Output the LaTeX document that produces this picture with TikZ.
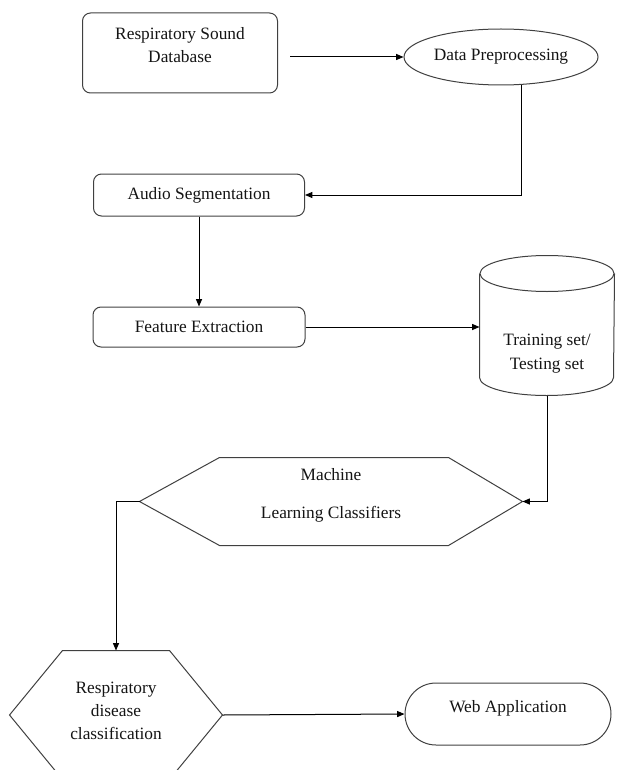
\documentclass[tikz,border=0pt]{standalone}
\usepackage{fontspec}
\setmainfont{Liberation Serif}
\newfontfamily\flowfont{Liberation Serif}
\usetikzlibrary{arrows.meta,calc,shapes.geometric,shapes.misc}

\tikzset{every picture/.style={line width=0.75pt}}
\tikzset{
  shapeline/.style={draw={rgb, 255:red, 64; green, 64; blue, 64}},
  boxnode/.style={shapeline, rounded corners=6pt},
  flowtext/.style={font=\flowfont\fontsize{13}{17.5}\selectfont, text={rgb, 255:red, 20; green, 20; blue, 20}, align=center, inner sep=0pt},
  flowarrow/.style={draw=black, -{Triangle[length=5.5pt,width=4.5pt]}}
}

\begin{document}
\begin{tikzpicture}[x=0.75pt,y=0.75pt,yscale=-1,xscale=1]
\clip (0,0) rectangle (636,770); %set diagram size 636 x 770

%Shape: Rounded Rect [id:rsd]
\node[boxnode, flowtext, minimum width=146.25pt, minimum height=60pt] (rsd) at (180,53) {};
%Shape: Ellipse [id:dp]
\node[shapeline, ellipse, flowtext, minimum width=145.5pt, minimum height=42pt] (dp) at (501,57) {Data Preprocessing};
%Shape: Rounded Rect [id:seg]
\node[boxnode, flowtext, minimum width=158.25pt, minimum height=31.5pt] (seg) at (199,195) {Audio Segmentation};
%Shape: Rounded Rect [id:fe]
\node[boxnode, flowtext, minimum width=159pt, minimum height=30pt] (fe) at (199,327) {Feature Extraction};
%Shape: Can [id:tts]
\node[flowtext, minimum width=100.5pt, minimum height=104.25pt] (tts) at (547,325.5) {};
\draw[shapeline] ($(tts.north)+(0,18)$) ellipse [x radius=67, y radius=18];
\draw[shapeline] ($(tts.north west)+(0,18)$) -- ($(tts.south west)+(0,-18)$) arc [start angle=180, end angle=0, x radius=67, y radius=18] -- ($(tts.north east)+(0,18)$);
%Shape: Hexagon [id:mlc]
\node[flowtext, minimum width=286.5pt, minimum height=65.25pt] (mlc) at (331,501.5) {};
\draw[shapeline] (mlc.west) -- ($(mlc.north west)+(80,0)$) -- ($(mlc.north east)+(-74,0)$) -- (mlc.east) -- ($(mlc.south east)+(-74,0)$) -- ($(mlc.south west)+(80,0)$) -- cycle;
%Shape: Hexagon [id:rdc]
\node[flowtext, minimum width=159pt, minimum height=96pt] (rdc) at (116,715) {};
\draw[shapeline] (rdc.west) -- ($(rdc.north west)+(53,0)$) -- ($(rdc.north east)+(-53,0)$) -- (rdc.east) -- ($(rdc.south east)+(-53,0)$) -- ($(rdc.south west)+(53,0)$) -- cycle;
%Shape: Rounded Rect [id:web]
\node[shapeline, rounded rectangle, flowtext, minimum width=154.5pt, minimum height=46.5pt] (web) at (508,714) {};

% Text Node
\node[flowtext] (rsdtxt) at (180,45) {Respiratory Sound\\Database};
% Text Node
\node[flowtext] (ttstxt) at (547,353.5) {Training set/\\Testing set};
% Text Node
\node[flowtext] (mlctxt) at (331,495) {Machine\\[11pt]Learning Classifiers};
% Text Node
\node[flowtext] (rdctxt) at (116,711) {Respiratory\\disease\\classification};
% Text Node
\node[flowtext] (webtxt) at (508,708) {Web Application};

%Straight Lines
\draw[flowarrow, shorten <=9pt] (rsd.east |- dp.west) -- (dp.west);
\draw[flowarrow] (dp.-54) |- (seg.east);
\draw[flowarrow] (seg.south) -- (fe.north);
\draw[flowarrow] (fe.east) -- (fe.east -| tts.west);
\draw[flowarrow] (tts.south) |- (mlc.east);
\draw[flowarrow] (mlc.west) -| (rdc.north);
\draw[flowarrow] (rdc.east) -- (web.west);

\end{tikzpicture}
\end{document}
